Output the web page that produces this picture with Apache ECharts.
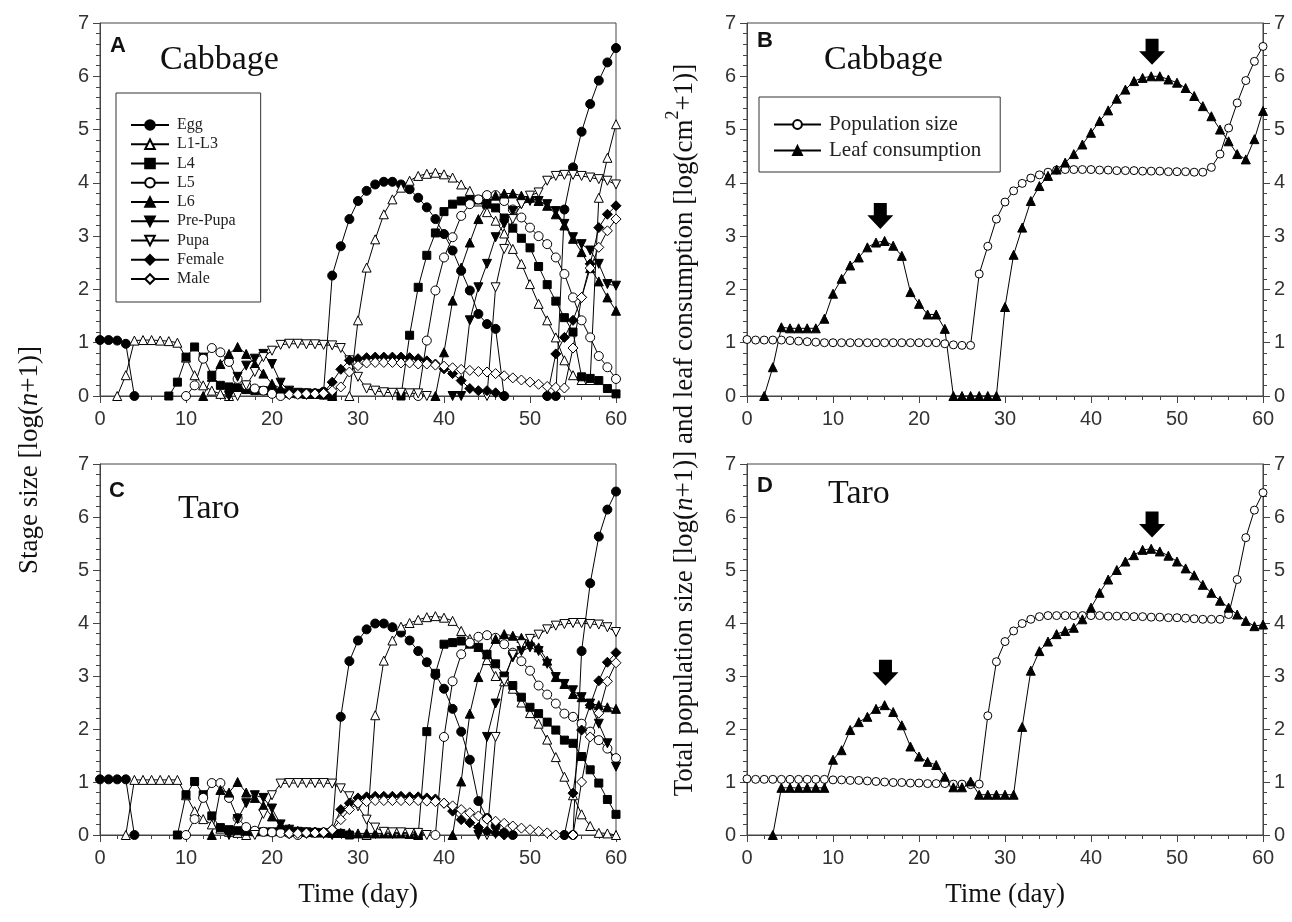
<!DOCTYPE html>
<html>
<head>
<meta charset="utf-8">
<script src="https://cdn.jsdelivr.net/npm/echarts@6/dist/echarts.min.js"></script>
<style>
  html, body { margin: 0; padding: 0; background: #fff; }
  #chart { width: 1292px; height: 922px; }
</style>
</head>
<body>
<div id="chart"></div>
<script>
const _ = null;
const days = Array.from({ length: 61 }, (v, i) => i);

// A – cabbage, stage sizes log(n+1)
const eggA = [1.05,1.05,1.04,0.98,0,_,_,_,_,_,
  _,_,_,_,_,_,_,_,_,_,
  _,_,0.04,0.04,0.05,0.05,0.08,2.26,2.81,3.32,
  3.66,3.85,3.97,4.02,4.02,3.97,3.88,3.72,3.54,3.32,
  3.04,2.73,2.35,1.98,1.54,1.35,1.26,0,_,_,
  _,_,0,0,3.5,4.29,4.96,5.48,5.92,6.26,
  6.53];
const l13A = [_,_,0,0.39,1.04,1.05,1.05,1.04,1.03,1.0,
  0.72,0.39,0.2,0.1,0.04,0,_,_,_,_,
  _,_,_,_,_,_,_,_,_,0,
  1.42,2.41,2.94,3.41,3.69,3.91,4.04,4.13,4.17,4.19,
  4.16,4.1,3.97,3.85,3.65,3.45,3.29,3.05,2.76,2.48,
  2.1,1.73,1.42,1.1,0.67,0.39,0.3,0.3,3.72,4.47,
  5.1];
const l4A = [_,_,_,_,_,_,_,_,0,0.26,
  0.73,0.92,0.73,0.39,0.2,0.17,0.15,0.12,0.1,0.1,
  0.08,0.06,0.05,0.04,0.03,0.03,0.02,0,_,_,
  _,_,_,_,_,0,1.14,2.04,2.64,3.06,
  3.46,3.6,3.66,3.68,3.68,3.62,3.53,3.34,3.15,2.96,
  2.78,2.43,2.09,1.78,1.47,1.2,0.36,0.33,0.29,0.14,
  0.04];
const l5A = [_,_,_,_,_,_,_,_,_,_,
  0,0.2,0.7,0.9,0.82,0.64,0.32,0.2,0.14,0.1,
  0.04,0,_,_,_,_,_,_,_,_,
  _,_,_,_,_,_,_,0,1.04,1.98,
  2.6,2.98,3.38,3.6,3.69,3.77,3.77,3.66,3.5,3.35,
  3.16,3.0,2.85,2.6,2.29,1.85,1.42,1.1,0.75,0.54,
  0.32];
const l6A = [_,_,_,_,_,_,_,_,_,_,
  _,_,0,0.36,0.6,0.79,0.92,0.79,0.6,0.42,
  0.23,0.14,0.1,0.06,0.05,0.04,0.03,0,_,_,
  _,_,_,_,_,_,_,_,_,0,
  0.82,1.79,2.41,2.88,3.32,3.61,3.76,3.8,3.8,3.76,
  3.72,3.66,3.57,3.41,3.2,2.95,2.7,2.4,2.15,1.85,
  1.6];
const preA = [_,_,_,_,_,_,_,_,_,_,
  _,_,_,_,_,0,0.36,0.57,0.7,0.79,
  0.6,0.25,0.1,0.06,0.05,0.04,0.03,0,_,_,
  _,_,_,_,_,_,_,_,_,_,
  _,0,0,1.42,2.04,2.48,2.98,3.23,3.47,3.6,
  3.66,3.66,3.6,3.47,3.23,2.98,2.85,2.73,2.48,2.1,
  2.07];
const pupaA = [_,_,_,_,_,_,_,_,_,_,
  _,_,_,_,_,_,0,0.2,0.45,0.73,
  0.85,0.96,0.98,0.98,0.97,0.97,0.96,0.95,0.9,0.67,
  0.36,0.14,0.1,0.07,0.06,0.06,0.05,0.05,0,_,
  _,_,_,_,_,0,2.04,2.76,3.32,3.6,
  3.76,3.82,4.04,4.13,4.15,4.15,4.13,4.1,4.07,4.04,
  3.97];
const femA = [_,_,_,_,_,_,_,_,_,_,
  _,_,_,_,_,_,_,_,_,_,
  _,_,0.04,0.04,0.05,0.05,0.06,0.26,0.5,0.67,
  0.7,0.72,0.73,0.73,0.73,0.73,0.72,0.7,0.66,0.6,
  0.51,0.42,0.29,0.14,0.1,0.1,0.06,0,_,_,
  _,_,0,0.79,1.1,1.42,1.85,2.48,3.16,3.41,
  3.57];
const maleA = [_,_,_,_,_,_,_,_,_,_,
  _,_,_,_,_,_,_,_,_,_,
  _,_,0.03,0.03,0.04,0.04,0.05,0.1,0.17,0.45,
  0.57,0.62,0.63,0.63,0.63,0.62,0.62,0.6,0.6,0.58,
  0.56,0.53,0.5,0.48,0.46,0.45,0.42,0.38,0.34,0.3,
  0.26,0.22,0.18,0.16,0.15,0.9,1.85,2.4,2.79,3.1,
  3.32];

// C – taro, stage sizes
const eggC = [1.05,1.05,1.05,1.05,0,_,_,_,_,_,
  _,_,_,_,_,_,_,_,_,_,
  _,_,_,_,0.04,0.05,0.05,0.08,2.23,3.28,
  3.67,3.88,3.99,3.99,3.92,3.82,3.67,3.47,3.26,3.02,
  2.76,2.38,1.95,1.42,0.64,0.32,0.17,0.04,0,_,
  _,_,_,_,0,0,3.47,4.75,5.63,6.14,
  6.48];
const l13C = [_,_,_,0,1.04,1.04,1.04,1.04,1.04,1.04,
  0.75,0.45,0.3,0.2,0.12,0.06,0.04,0,_,_,
  _,_,_,_,_,_,_,_,_,_,
  _,0,2.26,3.29,3.67,3.93,4.0,4.06,4.11,4.13,
  4.1,4.04,3.85,3.7,3.55,3.3,3.0,2.9,2.76,2.5,
  2.3,2.1,1.8,1.47,1.1,0.75,0.39,0.17,0.04,0.03,
  0];
const l4C = [_,_,_,_,_,_,_,_,_,0,
  0.76,1.01,0.76,0.36,0.14,0.1,0.08,0.07,0.06,0.06,
  0.06,0.06,0.05,0.05,0.05,0.04,0.04,0.04,0.03,0,
  _,_,_,_,_,_,_,0,1.95,3.05,
  3.6,3.63,3.66,3.6,3.54,3.41,3.23,3.0,2.82,2.6,
  2.41,2.29,2.13,1.98,1.79,1.73,1.48,1.23,0.98,0.67,
  0.39];
const l5C = [_,_,_,_,_,_,_,_,_,_,
  0,0.3,0.7,0.98,0.98,0.7,0.32,0.15,0.08,0.06,
  0.05,0.04,0.03,0,_,_,_,_,_,_,
  _,_,_,_,_,_,_,_,_,0,
  1.85,2.9,3.41,3.63,3.74,3.77,3.72,3.6,3.44,3.28,
  3.1,2.82,2.65,2.48,2.29,2.23,2.1,1.95,1.79,1.63,
  1.45];
const l6C = [_,_,_,_,_,_,_,_,_,_,
  _,_,_,0,0.85,0.8,1.0,0.8,0.7,0.55,
  0.35,0.2,0.12,0.08,0.06,0.05,0.05,0.04,0.04,0.04,
  0.03,0.03,0.03,0.03,0.03,0.03,0.02,0,_,_,
  _,0,1.01,2.29,2.98,3.41,3.7,3.79,3.76,3.72,
  3.66,3.54,3.29,2.98,2.85,2.66,2.6,2.48,2.45,2.41,
  2.38];
const preC = [_,_,_,_,_,_,_,_,_,_,
  _,_,_,_,_,0,0.3,0.6,0.75,0.7,
  0.5,0.2,0.1,0.06,0.05,0.04,0.03,0,_,_,
  _,_,_,_,_,_,_,_,_,_,
  _,_,_,_,0,1.85,2.48,2.98,3.35,3.47,
  3.54,3.47,3.23,2.98,2.85,2.73,2.6,2.48,2.1,1.73,
  1.29];
const pupaC = [_,_,_,_,_,_,_,_,_,_,
  _,_,_,_,_,_,_,_,0,0.4,
  0.75,0.97,0.98,0.98,0.98,0.98,0.98,0.97,0.88,0.73,
  0.54,0.29,0.14,0.06,0.05,0.05,0.04,0.04,0,_,
  _,_,_,_,_,0,1.85,2.9,3.4,3.6,
  3.7,3.78,3.88,3.95,3.98,4.0,4.0,3.98,3.97,3.92,
  3.83];
const femC = [_,_,_,_,_,_,_,_,_,_,
  _,_,_,_,_,_,_,_,_,_,
  _,_,0.03,0.04,0.04,0.05,0.05,0.1,0.48,0.6,
  0.7,0.72,0.73,0.73,0.73,0.73,0.72,0.72,0.7,0.68,
  0.6,0.45,0.29,0.23,0.14,0.07,0.04,0,_,_,
  _,_,_,_,0,0.79,1.98,2.45,2.91,3.26,
  3.44];
const maleC = [_,_,_,_,_,_,_,_,_,_,
  _,_,_,_,_,_,_,_,_,_,
  _,_,0.03,0.03,0.04,0.04,0.05,0.1,0.29,0.48,
  0.6,0.63,0.65,0.65,0.65,0.65,0.65,0.65,0.64,0.63,
  0.6,0.55,0.48,0.42,0.36,0.3,0.26,0.22,0.17,0.13,
  0.1,0.07,0.04,0,_,0,1.0,1.85,2.3,2.9,
  3.25];

// B – cabbage, total population and leaf consumption
const popB = [1.06,1.05,1.05,1.05,1.05,1.04,1.03,1.02,1.01,1.0,
  1.0,1.0,1.0,1.0,1.0,1.0,1.0,1.0,1.0,1.0,
  1.0,1.0,1.0,0.98,0.96,0.95,0.95,2.29,2.81,3.32,
  3.64,3.85,3.99,4.09,4.15,4.2,4.24,4.25,4.25,4.25,
  4.25,4.24,4.24,4.23,4.23,4.23,4.22,4.22,4.22,4.21,
  4.21,4.21,4.2,4.2,4.29,4.54,5.03,5.5,5.92,6.28,
  6.56];
const leafB = [_,_,0,0.54,1.29,1.27,1.27,1.27,1.27,1.45,
  1.92,2.2,2.45,2.6,2.79,2.88,2.91,2.82,2.63,1.95,
  1.73,1.53,1.53,1.26,0,0,0,0,0,0,
  1.67,2.65,3.16,3.66,3.94,4.13,4.25,4.38,4.54,4.72,
  4.94,5.16,5.36,5.58,5.75,5.91,5.97,6.0,6.0,5.94,
  5.88,5.78,5.63,5.44,5.25,5.0,4.78,4.54,4.44,4.82,
  5.35];
const arrowsB = [[15.5, 3.38], [47.1, 6.46]];

// D – taro, total population and leaf consumption
const popD = [1.06,1.05,1.05,1.05,1.05,1.05,1.05,1.05,1.05,1.05,
  1.04,1.04,1.03,1.03,1.02,1.01,1.0,0.99,0.99,0.98,
  0.98,0.97,0.97,0.97,0.96,0.96,0.95,0.96,2.25,3.27,
  3.65,3.85,3.99,4.07,4.12,4.14,4.14,4.14,4.14,4.14,
  4.14,4.14,4.13,4.13,4.13,4.12,4.12,4.11,4.11,4.1,
  4.1,4.09,4.08,4.07,4.07,4.07,4.16,4.82,5.61,6.13,
  6.46];
const leafD = [_,_,_,0,0.89,0.89,0.89,0.89,0.89,0.89,
  1.42,1.6,1.98,2.13,2.23,2.38,2.45,2.32,2.07,1.67,
  1.48,1.38,1.32,1.1,0.9,0.9,1.01,0.76,0.76,0.76,
  0.76,0.76,2.04,3.1,3.47,3.65,3.79,3.85,3.91,4.07,
  4.29,4.57,4.82,5.0,5.16,5.28,5.38,5.4,5.35,5.27,
  5.16,5.03,4.9,4.72,4.57,4.42,4.29,4.16,4.04,3.94,
  3.97];
const arrowsD = [[16.1, 3.06], [47.1, 5.86]];

const stageNames = ['Egg', 'L1-L3', 'L4', 'L5', 'L6', 'Pre-Pupa', 'Pupa', 'Female', 'Male'];
const stagesA = [eggA, l13A, l4A, l5A, l6A, preA, pupaA, femA, maleA];
const stagesC = [eggC, l13C, l4C, l5C, l6C, preC, pupaC, femC, maleC];

const SANS = '"Liberation Sans", Arial, sans-serif';
const SERIF = '"Liberation Serif", "Times New Roman", serif';
const AX = '#444';

// marker look for each stage, same order as stageNames
const stageMarks = [
  { symbol: 'circle', fill: '#000', size: 9 },
  { symbol: 'triangle', fill: '#fff', size: 9 },
  { symbol: 'rect', fill: '#000', size: 8 },
  { symbol: 'circle', fill: '#fff', size: 9 },
  { symbol: 'triangle', fill: '#000', size: 9 },
  { symbol: 'triangle', fill: '#000', size: 9, rotate: 180 },
  { symbol: 'triangle', fill: '#fff', size: 9, rotate: 180 },
  { symbol: 'diamond', fill: '#000', size: 10 },
  { symbol: 'diamond', fill: '#fff', size: 10 }
];

const pts = arr => arr.map((v, i) => [days[i], v]);

function lineSeries(name, values, xi, yi, mark) {
  return {
    type: 'line',
    name: name,
    xAxisIndex: xi,
    yAxisIndex: yi,
    data: pts(values),
    symbol: mark.symbol,
    symbolSize: mark.size,
    symbolRotate: mark.rotate || 0,
    showAllSymbol: true,
    clip: false,
    lineStyle: { color: '#000', width: 1 },
    itemStyle: { color: mark.fill, borderColor: '#000', borderWidth: 1 },
    emphasis: { disabled: true }
  };
}

function arrowSeries(list, xi, yi) {
  return {
    type: 'scatter',
    xAxisIndex: xi,
    yAxisIndex: yi,
    data: list,
    symbol: 'path://M5,0 L15,0 L15,12 L20,12 L10,25 L0,12 L5,12 Z',
    symbolSize: [26, 26],
    itemStyle: { color: '#000', opacity: 1 },
    silent: true,
    z: 5
  };
}

function xAxis(gi, withName) {
  return {
    type: 'value', gridIndex: gi, min: 0, max: 60, interval: 10,
    axisLine: { onZero: false, lineStyle: { color: AX, width: 1 } },
    axisTick: { length: 7, lineStyle: { color: AX } },
    minorTick: { show: true, splitNumber: 5, length: 4, lineStyle: { color: AX } },
    splitLine: { show: false },
    axisLabel: { margin: 13, fontFamily: SANS, fontSize: 20, color: '#333' },
    name: withName ? 'Time (day)' : '',
    nameLocation: 'middle',
    nameGap: 46,
    nameTextStyle: { fontFamily: SERIF, fontSize: 27, color: '#111' }
  };
}

function yAxis(gi, pos) {
  return {
    type: 'value', gridIndex: gi, position: pos, min: 0, max: 7, interval: 1,
    axisLine: { show: true, onZero: false, lineStyle: { color: AX, width: 1 } },
    axisTick: { show: true, length: 7, lineStyle: { color: AX } },
    minorTick: { show: true, splitNumber: 5, length: 4, lineStyle: { color: AX } },
    splitLine: { show: false },
    axisLabel: { margin: 11, fontFamily: SANS, fontSize: 20, color: '#333' }
  };
}

const series = [];
stageNames.forEach((n, i) => series.push(lineSeries(n, stagesA[i], 0, 0, stageMarks[i])));
stageNames.forEach((n, i) => series.push(lineSeries(n, stagesC[i], 1, 1, stageMarks[i])));
const popMark = { symbol: 'circle', fill: '#fff', size: 8 };
const leafMark = { symbol: 'triangle', fill: '#000', size: 9 };
series.push(lineSeries('Population size', popB, 2, 2, popMark));
series.push(lineSeries('Leaf consumption', leafB, 2, 2, leafMark));
series.push(arrowSeries(arrowsB, 2, 2));
series.push(lineSeries('Population size', popD, 3, 4, popMark));
series.push(lineSeries('Leaf consumption', leafD, 3, 4, leafMark));
series.push(arrowSeries(arrowsD, 3, 4));

const gridStyle = { show: true, borderColor: AX, borderWidth: 1, backgroundColor: 'transparent' };

function label(text, x, y, size, weight, family) {
  return {
    type: 'text', x: x, y: y,
    style: { text: text, fontSize: size, fontWeight: weight || 'normal', fontFamily: family,
      fill: '#111', align: 'left', verticalAlign: 'middle' }
  };
}

const option = {
  animation: false,
  backgroundColor: '#fff',
  grid: [
    Object.assign({ left: 100, top: 23, width: 516, height: 373 }, gridStyle),
    Object.assign({ left: 100, top: 464, width: 516, height: 371 }, gridStyle),
    Object.assign({ left: 747, top: 23, width: 516, height: 373 }, gridStyle),
    Object.assign({ left: 747, top: 464, width: 516, height: 371 }, gridStyle)
  ],
  xAxis: [xAxis(0, false), xAxis(1, true), xAxis(2, false), xAxis(3, true)],
  yAxis: [yAxis(0, 'left'), yAxis(1, 'left'), yAxis(2, 'left'), yAxis(2, 'right'),
    yAxis(3, 'left'), yAxis(3, 'right')],
  legend: [
    {
      data: stageNames, orient: 'vertical', left: 116, top: 93,
      itemWidth: 38, itemHeight: 12, itemGap: 3.25,
      padding: [24, 25, 15, 14],
      borderColor: '#333', borderWidth: 1,
      textStyle: { fontFamily: SERIF, fontSize: 16, color: '#222', padding: [0, 0, 0, 3] },
      selectedMode: false
    },
    {
      data: ['Population size', 'Leaf consumption'], orient: 'vertical', left: 759, top: 97,
      itemWidth: 47, itemHeight: 11, itemGap: 5,
      padding: [17, 19, 11, 14],
      borderColor: '#333', borderWidth: 1,
      textStyle: { fontFamily: SERIF, fontSize: 21, color: '#222', padding: [0, 0, 0, 3] },
      selectedMode: false
    }
  ],
  graphic: [
    label('A', 110, 46, 22, 'bold', SANS),
    label('B', 757, 41, 22, 'bold', SANS),
    label('C', 109, 491, 22, 'bold', SANS),
    label('D', 757, 486, 22, 'bold', SANS),
    label('Cabbage', 160, 60, 34, 'normal', SERIF),
    label('Cabbage', 824, 60, 34, 'normal', SERIF),
    label('Taro', 178, 509, 34, 'normal', SERIF),
    label('Taro', 828, 494, 34, 'normal', SERIF),
    {
      type: 'text', x: 30, y: 460, rotation: Math.PI / 2,
      style: {
        text: '{a|Stage size [log(}{i|n}{a|+1)]}',
        align: 'center', verticalAlign: 'middle',
        rich: {
          a: { fontFamily: SERIF, fontSize: 27, fill: '#111' },
          i: { fontFamily: SERIF, fontSize: 27, fontStyle: 'italic', fill: '#111' }
        }
      }
    },
    {
      type: 'text', x: 681, y: 430, rotation: Math.PI / 2,
      style: {
        text: '{a|Total population size [log(}{i|n}{a|+1)] and leaf consumption [log(cm}{s|2}{a|+1)]}',
        align: 'center', verticalAlign: 'middle',
        rich: {
          a: { fontFamily: SERIF, fontSize: 27, fill: '#111', lineHeight: 34, verticalAlign: 'bottom' },
          i: { fontFamily: SERIF, fontSize: 27, fontStyle: 'italic', fill: '#111', lineHeight: 34, verticalAlign: 'bottom' },
          s: { fontFamily: SERIF, fontSize: 18, fill: '#111', lineHeight: 34, verticalAlign: 'top' }
        }
      }
    }
  ],
  series: series
};

const chart = echarts.init(document.getElementById('chart'));
chart.setOption(option);
</script>
</body>
</html>
